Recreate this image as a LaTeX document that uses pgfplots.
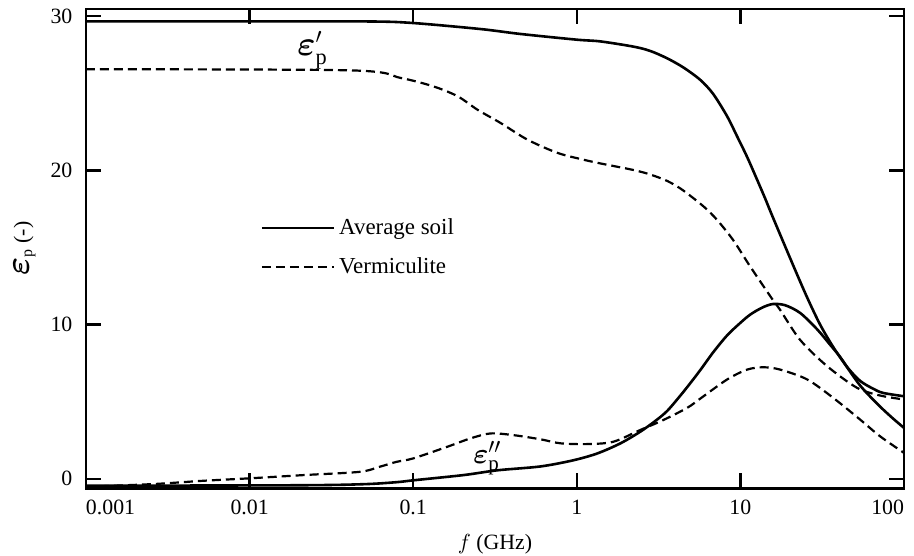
\documentclass[11pt,border=0pt]{standalone}
\usepackage{fontspec}
\setmainfont{Liberation Serif}
\usepackage{bm}
\usepackage{pgfplots}
\pgfplotsset{compat=1.18}
\begin{document}
\begin{tikzpicture}
\begin{axis}[
  scale only axis, width=409bp, height=239.75bp,
  xmode=log, xmin=0.001, xmax=100, ymin=-0.63, ymax=30.46,
  xtick={0.001,0.01,0.1,1,10,100},
  xticklabels={\rlap{0.001},0.01,0.1,1,10,\llap{100}},
  ytick={0,10,20,30},
  yticklabels={0,10,20,\raisebox{-5bp}{30}},
  xminorticks=false, yminorticks=false,
  tick align=inside, major tick length=7.5bp,
  axis line style={line width=1.4bp},
  every tick/.style={black, line width=1.2bp},
  xticklabel style={yshift=-2bp},
  yticklabel style={xshift=-3bp},
  xlabel={$f$ (GHz)},
  xlabel style={yshift=-2bp},
  ylabel={{\fontsize{17}{20}\selectfont$\bm{\varepsilon}$}$_{\mathrm{p}}$ (-)},
  legend style={draw=none, fill=none, at={(0.213,0.5725)}, anchor=north west,
    inner sep=0pt, row sep=6bp, font=\fontsize{11.5}{13}\selectfont},
  legend cell align=left,
  legend image code/.code={\draw[#1] (0bp,0bp) -- (36bp,0bp);},
  /tikz/every even column/.append style={column sep=6bp},
]
% Average soil, eps'
\addplot[black, line width=1.3bp, smooth] coordinates {
(0.001,29.66) (0.01,29.66) (0.055,29.65) (0.1,29.55) (0.258,29.16) (0.453,28.84)
(1.0,28.47) (1.39,28.36) (2.22,28.02) (2.81,27.74) (3.57,27.26) (4.48,26.67)
(5.69,25.86) (6.82,24.95) (8.3,23.5) (9.55,22.2) (11.0,20.86) (12.7,19.35)
(14.2,18.15) (15.8,16.95) (21.0,13.85) (25.6,11.75) (30.7,10.0) (36.9,8.55)
(44.9,7.25) (53.9,6.35) (64.5,5.85) (74.4,5.57) (100,5.35)};
\addlegendentry{Average soil}
% Vermiculite, eps'
\addplot[black, line width=1.1bp, dash pattern=on 4.5bp off 2.5bp, smooth] coordinates {
(0.001,26.55) (0.0415,26.48) (0.0838,25.99) (0.133,25.44) (0.187,24.8) (0.247,23.93)
(0.342,23.07) (0.499,21.99) (0.762,21.13) (1.097,20.69) (1.39,20.45) (2.22,20.02)
(2.81,19.73) (3.57,19.31) (4.3,18.82) (5.15,18.2) (6.1,17.56) (7.21,16.78)
(9.03,15.48) (11.5,13.75) (15.8,11.59) (17.5,10.95) (23.2,9.0) (33.9,7.3)
(51.6,5.9) (71.3,5.4) (100,5.14)};
\addlegendentry{Vermiculite}
% Average soil, eps''
\addplot[black, line width=1.3bp, smooth, forget plot] coordinates {
(0.001,-0.45) (0.02,-0.42) (0.05,-0.35) (0.0792,-0.22) (0.1,-0.1) (0.203,0.24)
(0.327,0.55) (0.6,0.8) (0.953,1.2) (1.34,1.65) (1.85,2.3) (2.44,3.05)
(3.02,3.75) (3.57,4.4) (4.3,5.4) (4.94,6.2) (5.69,7.05) (6.82,8.2)
(8.3,9.3) (9.97,10.1) (11.5,10.65) (13.6,11.1) (15.8,11.33) (18.8,11.25)
(23.2,10.75) (29.4,9.7) (35.3,8.7) (40.7,7.9) (46.8,6.95) (53.9,6.05)
(63.8,5.2) (74.4,4.5) (86.9,3.85) (100,3.3)};
% Vermiculite, eps''
\addplot[black, line width=1.1bp, dash pattern=on 4.5bp off 2.5bp, smooth, forget plot] coordinates {
(0.001,-0.52) (0.0026,-0.34) (0.0052,-0.13) (0.01,0.03) (0.0214,0.24) (0.047,0.45)
(0.0624,0.78) (0.0792,1.1) (0.1,1.32) (0.162,2.08) (0.224,2.62) (0.297,2.94)
(0.41,2.83) (0.6,2.56) (0.794,2.3) (1.16,2.25) (1.67,2.4) (2.44,3.16)
(3.38,3.81) (4.73,4.6) (5.69,5.2) (8.3,6.44) (11.0,7.08) (13.8,7.23)
(17.5,7.08) (25.6,6.44) (36.9,5.25) (53.9,3.84) (71.3,2.76) (100,1.68)};
\node at (axis cs:0.0243,27.8) {\fontsize{16}{19}\selectfont$\bm{\varepsilon}'_{\mathrm{p}}$};
\node at (axis cs:0.284,1.35) {\fontsize{15}{18}\selectfont$\bm{\varepsilon}''_{\mathrm{p}}$};
\end{axis}
\pgfresetboundingbox
\path ([xshift=-43bp,yshift=-33.75bp]current axis.south west) rectangle ([xshift=5bp,yshift=4.5bp]current axis.north east);
\end{tikzpicture}
\end{document}
